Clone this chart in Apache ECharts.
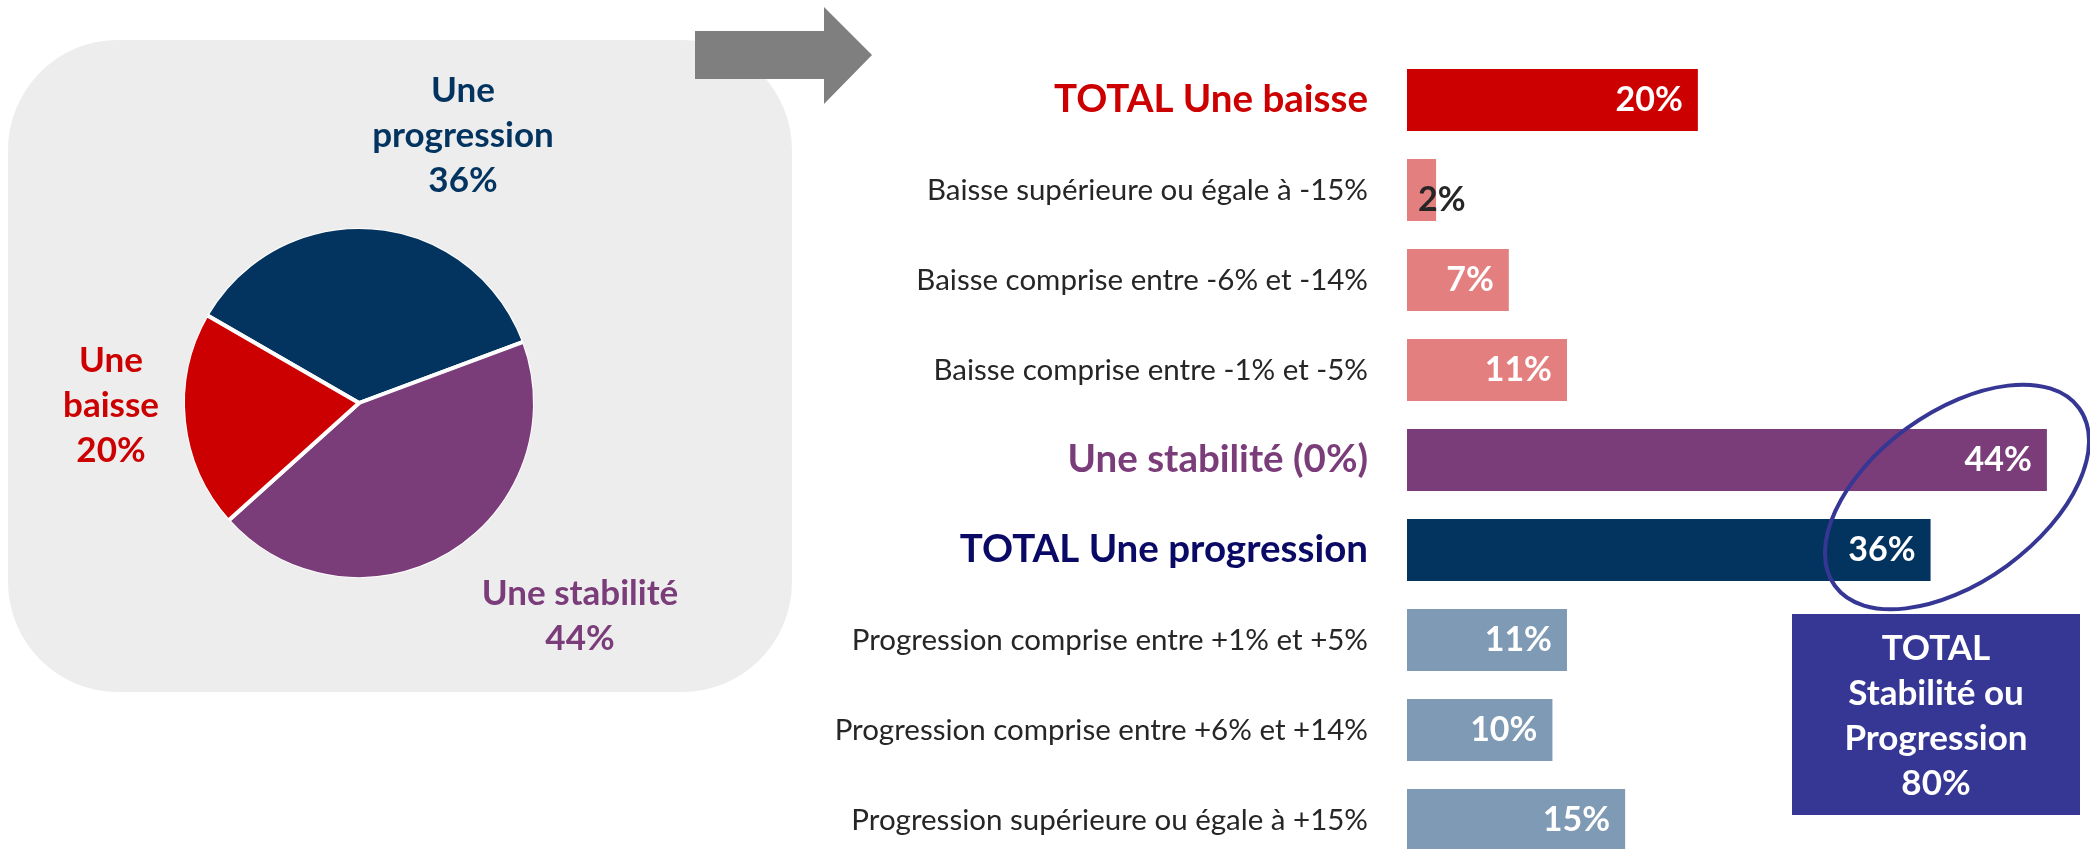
<!DOCTYPE html>
<html>
<head>
<meta charset="utf-8">
<script src="https://cdn.jsdelivr.net/npm/echarts@6/dist/echarts.min.js"></script>
<style>
  html, body { margin: 0; padding: 0; background: #fff; }
  #chart { width: 2090px; height: 849px; }
</style>
</head>
<body>
<div id="chart"></div>
<script>
// pie (left)
var pieNames = ['Une\nprogression', 'Une stabilité', 'Une\nbaisse'];
var pieValues = [36, 44, 20];
var pieColors = ['#03345F', '#7B3C7A', '#CC0000'];

// bars (right)
var barCategories = [
    'TOTAL Une baisse',
    'Baisse supérieure ou égale à -15%',
    'Baisse comprise entre -6% et -14%',
    'Baisse comprise entre -1% et -5%',
    'Une stabilité (0%)',
    'TOTAL Une progression',
    'Progression comprise entre +1% et +5%',
    'Progression comprise entre +6% et +14%',
    'Progression supérieure ou égale à +15%'
];
var barValues = [20, 2, 7, 11, 44, 36, 11, 10, 15];
var barColors = ['#CC0000', '#E47F7F', '#E47F7F', '#E47F7F', '#7B3C7A', '#03345F', '#7F9AB4', '#7F9AB4', '#7F9AB4'];
// style key of each category label
var labelStyles = ['red', 'norm', 'norm', 'norm', 'purple', 'navy', 'norm', 'norm', 'norm'];

// summary box
var totalLines = ['TOTAL', 'Stabilité ou', 'Progression', '80%'];

var FONT = 'Lato, "Open Sans", sans-serif';

var myChart = echarts.init(document.getElementById('chart'));

// where each pie label sits (centre of the text block)
var pieLabelPos = [[463, 136], [580, 616], [111, 406]];

var option = {
    animation: false,
    textStyle: { fontFamily: FONT },
    grid: {
        left: 1407,
        top: 55,
        width: 669,
        height: 810,
        containLabel: false,
        outerBoundsMode: 'none'
    },
    xAxis: {
        type: 'value',
        min: 0,
        max: 46,
        show: false
    },
    yAxis: {
        type: 'category',
        inverse: true,
        data: barCategories,
        axisLine: { show: false },
        axisTick: { show: false },
        splitLine: { show: false },
        axisLabel: {
            margin: 39,
            formatter: function(value, index) {
                return '{' + labelStyles[index] + '|' + value + '}';
            },
            rich: {
                norm: { fontFamily: FONT, fontSize: 29.5, color: '#262626' },
                red: { fontFamily: FONT, fontSize: 38.5, fontWeight: 'bold', color: '#CC0000' },
                purple: { fontFamily: FONT, fontSize: 38.5, fontWeight: 'bold', color: '#7B3C7A' },
                navy: { fontFamily: FONT, fontSize: 38.5, fontWeight: 'bold', color: '#0A0A66' }
            }
        }
    },
    graphic: [
        {
            type: 'rect',
            z: -10,
            shape: { x: 8, y: 40, width: 784, height: 652, r: 110 },
            style: { fill: '#EDEDED' }
        },
        {
            // hides the white slice border on the pie's rim
            type: 'circle',
            z: 50,
            shape: { cx: 359, cy: 403, r: 177 },
            style: { fill: null, stroke: '#EDEDED', lineWidth: 4 }
        },
        {
            type: 'polygon',
            shape: {
                points: [[695, 31], [824, 31], [824, 7], [872, 55], [824, 104], [824, 79], [695, 79]]
            },
            style: { fill: '#7F7F7F' }
        },
        {
            type: 'ellipse',
            z: 100,
            x: 1957,
            y: 497,
            rotation: 36 * Math.PI / 180,
            shape: { cx: 0, cy: 0, rx: 151, ry: 85 },
            style: { fill: null, stroke: '#363795', lineWidth: 4 }
        },
        {
            type: 'rect',
            z: 100,
            shape: { x: 1792, y: 614, width: 288, height: 201 },
            style: { fill: '#363795' }
        },
        {
            type: 'text',
            z: 101,
            x: 1936,
            y: 716,
            style: {
                text: totalLines.join('\n'),
                fill: '#fff',
                font: 'bold 35px ' + FONT,
                align: 'center',
                verticalAlign: 'middle',
                lineHeight: 45
            }
        }
    ],
    series: [
        {
            type: 'pie',
            center: [359, 403],
            radius: 176,
            startAngle: 150,
            clockwise: true,
            itemStyle: { borderColor: '#fff', borderWidth: 4 },
            label: {
                show: true,
                position: 'outside',
                formatter: '{b}\n{c}%',
                fontFamily: FONT,
                fontSize: 35,
                fontWeight: 'bold',
                lineHeight: 45,
                align: 'center',
                color: 'inherit'
            },
            labelLine: { show: false },
            labelLayout: function(params) {
                var p = pieLabelPos[params.dataIndex];
                return { x: p[0], y: p[1], align: 'center', verticalAlign: 'middle' };
            },
            emphasis: { disabled: true },
            data: pieValues.map(function(v, i) {
                return {
                    name: pieNames[i],
                    value: v,
                    itemStyle: { color: pieColors[i] },
                    label: { color: pieColors[i] }
                };
            })
        },
        {
            type: 'bar',
            barWidth: 62,
            emphasis: { disabled: true },
            label: {
                show: true,
                position: 'insideRight',
                distance: 15,
                formatter: '{c}%',
                fontFamily: FONT,
                fontSize: 34,
                fontWeight: 'bold',
                color: '#fff'
            },
            data: barValues.map(function(v, i) {
                var item = { value: v, itemStyle: { color: barColors[i] } };
                // the tiny bar gets its label spilling out, dark
                if (v < 5) {
                    item.label = { position: 'insideLeft', distance: 11, offset: [0, 10], color: '#262626' };
                }
                return item;
            })
        }
    ]
};

myChart.setOption(option);
</script>
</body>
</html>
